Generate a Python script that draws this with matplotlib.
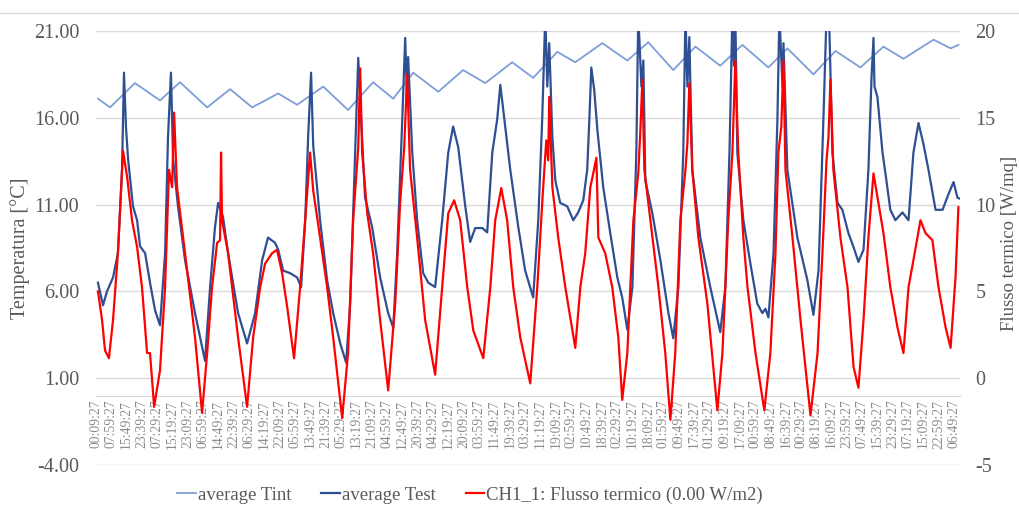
import numpy as np
import matplotlib
matplotlib.use("Agg")
from matplotlib import pyplot as plt
from matplotlib.lines import Line2D

plt.rcParams['font.family'] = ['Liberation Serif', 'DejaVu Serif']

# category labels (one every 47 samples = 7h50m)
time_labels = [
    "00:09:27", "07:59:27", "15:49:27", "23:39:27", "07:29:27", "15:19:27", "23:09:27", "06:59:27",
    "14:49:27", "22:39:27", "06:29:27", "14:19:27", "22:09:27", "05:59:27", "13:49:27", "21:39:27",
    "05:29:27", "13:19:27", "21:09:27", "04:59:27", "12:49:27", "20:39:27", "04:29:27", "12:19:27",
    "20:09:27", "03:59:27", "11:49:27", "19:39:27", "03:29:27", "11:19:27", "19:09:27", "02:59:27",
    "10:49:27", "18:39:27", "02:29:27", "10:19:27", "18:09:27", "01:59:27", "09:49:27", "17:39:27",
    "01:29:27", "09:19:27", "17:09:27", "00:59:27", "08:49:27", "16:39:27", "00:29:27", "08:19:27",
    "16:09:27", "23:59:27", "07:49:27", "15:39:27", "23:29:27", "07:19:27", "15:09:27", "22:59:27",
    "06:49:27",
]
label_step_h = 470 / 60.0  # 7h50m between labels

# average Tint (hours from start, degC)
tint_h = [1.0, 7.2, 19.9, 32.7, 42.9, 56.8, 68.5, 79.8, 93.1, 102.8, 116.1, 128.8, 141.6, 151.9,
          162.1, 174.9, 187.6, 198.9, 212.7, 223.4, 235.7, 244.9, 258.7, 271.5, 282.2, 295.0,
          306.3, 319.0, 330.3, 343.6, 353.3, 366.6, 377.9, 390.6, 402.4, 412.6, 428.0, 436.7, 440.7]
tint_v = [17.1, 16.6, 18.0, 17.0, 18.05, 16.6, 17.65, 16.6, 17.4, 16.75, 17.8, 16.45, 18.05, 17.1,
          18.6, 17.5, 18.75, 18.0, 19.2, 18.3, 19.8, 19.2, 20.3, 19.3, 20.35, 18.75,
          20.1, 19.0, 20.2, 18.9, 20.0, 18.5, 19.85, 18.9, 20.1, 19.4, 20.5, 20.0, 20.2]

# average Test (hours from start, degC) - peaks above 21 are clipped in the chart
test_h = [1.0, 3.6, 5.6, 8.7, 11.2, 13.3, 14.3, 15.3, 16.4, 18.9, 21.0, 22.5, 25.1, 27.6, 30.2,
          32.7, 35.3, 36.8, 38.3, 39.4, 41.9, 45.5, 50.6, 55.7, 58.3, 60.8, 62.4, 64.9, 67.5,
          72.6, 77.2, 81.3, 84.9, 87.9, 91.5, 93.1, 95.6, 99.2, 102.8, 104.8, 106.9, 108.4,
          109.9, 111.0, 114.5, 118.1, 121.2, 124.8, 127.8, 129.9, 132.4, 134.0, 135.5, 137.5,
          141.1, 145.2, 149.3, 151.9, 153.9, 156.5, 158.0, 159.0, 159.5, 161.6, 164.1, 167.2,
          169.8, 173.3, 176.9, 180.0, 182.5, 185.1, 188.7, 191.2, 193.8, 197.4, 199.9, 202.5,
          205.0, 206.6, 208.1, 211.7, 215.8, 219.3, 223.4, 226.0, 228.0, 229.6, 230.6, 231.6,
          233.2, 234.7, 237.2, 240.8, 243.9, 246.4, 249.0, 251.0, 252.1, 253.1, 254.6, 256.2,
          259.2, 262.8, 266.4, 268.9, 271.5, 274.1, 276.1, 277.1, 278.7, 279.7, 280.7, 284.3,
          288.4, 292.5, 295.0, 297.6, 300.1, 301.2, 302.2, 303.2, 304.7, 308.8, 313.9, 319.0,
          321.6, 323.7, 325.2, 326.0, 326.7, 327.7, 330.8, 334.4, 337.9, 340.5, 342.1, 343.6,
          346.2, 348.2, 349.2, 350.8, 351.3, 353.3, 358.4, 363.5, 366.6, 369.2, 371.7, 373.3,
          374.8, 376.3, 378.9, 381.4, 384.5, 387.1, 389.6, 392.2, 394.7, 396.3, 397.3, 397.8,
          399.3, 401.9, 403.4, 405.9, 408.5, 412.1, 415.2, 417.7, 420.3, 422.8, 425.4, 429.0,
          432.6, 435.6, 438.2, 440.2, 441.2]
test_v = [6.5, 5.2, 6.0, 6.8, 8.2, 13.0, 18.6, 15.5, 13.6, 10.9, 10.1, 8.6, 8.2, 6.5, 4.9,
          4.05, 8.2, 14.9, 18.6, 13.6, 10.9, 7.8, 4.75, 2.0, 6.25, 9.7, 11.1, 10.3, 8.2,
          4.75, 3.0, 4.75, 7.8, 9.1, 8.8, 8.4, 7.2, 7.05, 6.8, 6.25, 10.1, 14.9,
          18.6, 14.4, 10.1, 6.65, 4.75, 3.0, 1.9, 5.3, 14.0, 19.45, 15.9, 11.4,
          9.7, 6.8, 4.75, 3.9, 8.2, 15.9, 20.6, 16.85, 19.5, 14.0, 10.1, 7.05,
          6.5, 6.25, 10.1, 14.0, 15.5, 14.3, 10.9, 8.85, 9.65, 9.65, 9.4, 14.0,
          15.9, 17.9, 16.45, 13.0, 9.7, 7.2, 5.65, 10.1, 15.9, 22.0, 17.8, 20.3,
          14.9, 12.4, 11.1, 10.9, 10.1, 10.55, 11.25, 13.0, 15.9, 18.9, 17.6, 15.3,
          12.0, 9.35, 6.8, 5.65, 3.8, 6.25, 14.0, 22.0, 17.8, 19.3, 12.4, 10.5,
          7.8, 4.75, 3.3, 6.25, 14.0, 22.0, 17.8, 20.65, 13.0, 9.1, 6.25, 3.65,
          6.25, 14.0, 22.0, 19.0, 22.0, 14.0, 10.1, 7.6, 5.3, 4.75, 5.0, 4.5,
          8.2, 15.9, 22.0, 17.8, 20.3, 13.0, 9.1, 6.65, 4.65, 7.2, 15.9, 22.0,
          20.9, 14.0, 11.1, 10.7, 9.35, 8.55, 7.7, 8.4, 13.0, 18.35, 20.6, 17.8,
          17.2, 14.0, 12.8, 10.7, 10.1, 10.55, 10.1, 14.0, 15.7, 14.5, 13.0, 10.7,
          10.7, 11.6, 12.3, 11.4, 11.35]

# CH1_1 heat flux (hours from start, W/m2) - secondary axis
flux_h = [1.0, 3.1, 4.6, 6.6, 8.7, 11.2, 13.8, 15.9, 18.4, 21.0, 23.5, 26.1, 27.6, 29.7, 32.7,
          35.3, 37.3, 38.9, 39.9, 41.4, 45.5, 50.6, 54.2, 56.8, 59.3, 61.9, 63.4, 63.9, 64.4,
          67.5, 72.6, 77.2, 80.3, 83.9, 86.4, 90.0, 92.5, 95.1, 97.7, 101.2, 104.3, 106.9,
          109.4, 111.0, 114.5, 118.1, 121.2, 125.8, 128.8, 131.4, 134.0, 135.0, 136.0, 138.6,
          141.6, 145.2, 149.3, 152.9, 155.4, 157.5, 159.0, 160.5, 164.1, 168.2, 173.3, 176.9,
          180.0, 183.0, 186.1, 189.7, 192.8, 197.9, 201.5, 204.0, 207.1, 210.1, 213.2, 216.8,
          221.9, 225.5, 228.5, 230.1, 231.1, 231.6, 233.2, 236.2, 239.8, 244.9, 247.5, 250.0,
          252.6, 254.1, 255.7, 256.7, 260.2, 263.8, 266.9, 268.9, 271.5, 274.6, 277.1, 278.1,
          279.2, 280.2, 283.3, 287.4, 290.9, 293.5, 296.0, 298.6, 301.2, 302.2, 303.2, 304.7,
          307.8, 312.4, 317.5, 320.1, 323.1, 325.2, 326.7, 328.2, 330.8, 332.9, 337.0, 341.5,
          344.6, 347.2, 348.7, 350.2, 351.3, 352.3, 355.9, 360.0, 365.1, 368.7, 371.2, 373.3,
          374.3, 375.3, 376.8, 380.4, 384.0, 387.1, 389.6, 392.2, 394.7, 397.3, 399.8, 402.4,
          405.9, 409.5, 412.6, 415.2, 417.7, 421.3, 423.9, 427.4, 430.5, 434.1, 436.7, 439.2,
          440.7]
flux_v = [5.0, 3.35, 1.6, 1.15, 3.35, 7.2, 13.1, 11.6, 9.1, 7.55, 5.25, 1.45, 1.45, -1.65, 0.45,
          5.25, 12.0, 11.0, 15.3, 11.0, 7.2, 2.35, -2.0, 1.45, 5.25, 7.8, 7.95, 13.0, 9.1,
          7.2, 2.35, -1.65, 2.35, 5.25, 6.6, 7.2, 7.4, 6.05, 4.1, 1.15, 5.25, 9.1,
          13.0, 10.8, 8.1, 5.25, 2.35, -2.3, 1.45, 9.1, 13.3, 17.85, 13.0, 9.5,
          7.2, 3.35, -0.7, 4.3, 10.1, 13.3, 17.5, 12.0, 8.1, 3.35, 0.2, 5.25,
          9.5, 10.25, 9.1, 5.25, 2.75, 1.15, 5.25, 9.1, 10.95, 9.1, 5.25, 2.35,
          -0.3, 5.25, 11.0, 13.7, 12.55, 16.2, 11.0, 8.1, 5.25, 1.75, 5.25, 7.2,
          11.0, 11.8, 12.7, 8.1, 7.2, 5.25, 2.35, -1.25, 1.45, 9.1, 11.8, 14.1,
          17.2, 12.0, 9.1, 5.25, 1.45, -2.4, 1.45, 9.1, 12.0, 13.55, 17.0, 12.0,
          8.1, 4.3, -1.85, 1.45, 9.1, 13.0, 18.3, 13.0, 8.1, 5.25, 1.45, -1.85,
          1.45, 7.2, 13.0, 14.5, 18.3, 12.0, 8.1, 3.35, -2.15, 1.45, 7.2, 12.55,
          13.9, 17.2, 12.0, 8.1, 5.25, 0.65, -0.55, 3.35, 8.1, 11.8, 10.1, 8.35,
          5.25, 2.95, 1.45, 5.25, 6.8, 9.1, 8.35, 7.95, 5.25, 2.95, 1.75, 5.8,
          9.85]

temp_ticks = [-4, 1, 6, 11, 16, 21]
flux_ticks = [-5, 0, 5, 10, 15, 20]

text_col = '#595959'
grid_col = '#d9d9d9'

fig = plt.figure(figsize=(10.19, 5.09), dpi=100)
ax = fig.add_axes([96 / 1019, 1 - 465 / 509, 864 / 1019, 434 / 509])

l1, = ax.plot(tint_h, tint_v, color='#7f9ed8', lw=1.3, label='average Tint')
l2, = ax.plot(test_h, test_v, color='#2f4f93', lw=1.6, label='average Test')
ax.set_ylim(-4, 21)
ax.set_xlim(0, 441.5)
ax.set_yticks(temp_ticks)
ax.set_yticklabels([f"{t:.2f}" for t in temp_ticks], fontsize=14.5, color=text_col)
ax.yaxis.grid(True, color=grid_col, lw=1)
ax.set_axisbelow(True)
for s in ['top', 'left', 'right']:
    ax.spines[s].set_visible(False)
ax.spines['bottom'].set_position(('data', 0))
ax.spines['bottom'].set_color(grid_col)

ax.set_xticks(np.arange(len(time_labels)) * label_step_h)
ax.set_xticklabels(time_labels, rotation=90, fontsize=9.8, color='#8c8c8c', va='top')
ax.tick_params(axis='x', length=0, pad=3)
ax.tick_params(axis='y', length=0, pad=12)

ax2 = ax.twinx()
l3, = ax2.plot(flux_h, flux_v, color='#ff0000', lw=1.6, label='CH1_1: Flusso termico (0.00 W/m2)')
ax2.set_ylim(-5, 20)
ax2.set_yticks(flux_ticks)
ax2.set_yticklabels([str(t) for t in flux_ticks], fontsize=14.5, color=text_col)
ax2.tick_params(axis='y', length=0, pad=11)
for s in ax2.spines.values():
    s.set_visible(False)

fig.text(20 / 1019, 1 - 248 / 509, 'Temperatura [°C]', rotation=90, ha='center', va='center',
         fontsize=14.5, color=text_col)
fig.text(1010 / 1019, 1 - 243 / 509, 'Flusso termico [W/mq]', rotation=90, ha='center', va='center',
         fontsize=13.5, color=text_col)

# chart border remnant at the top
fig.add_artist(Line2D([0, 1], [1 - 13 / 509] * 2, transform=fig.transFigure, color=grid_col, lw=1))

leg = fig.legend(handles=[l1, l2, l3], loc='center', bbox_to_anchor=(470 / 1019, 1 - 495 / 509),
                 ncol=3, frameon=False, fontsize=13.5, handlelength=1.0, handletextpad=0.1,
                 columnspacing=1.6)
for t in leg.get_texts():
    t.set_color(text_col)

fig.savefig('out.png', dpi=100)
